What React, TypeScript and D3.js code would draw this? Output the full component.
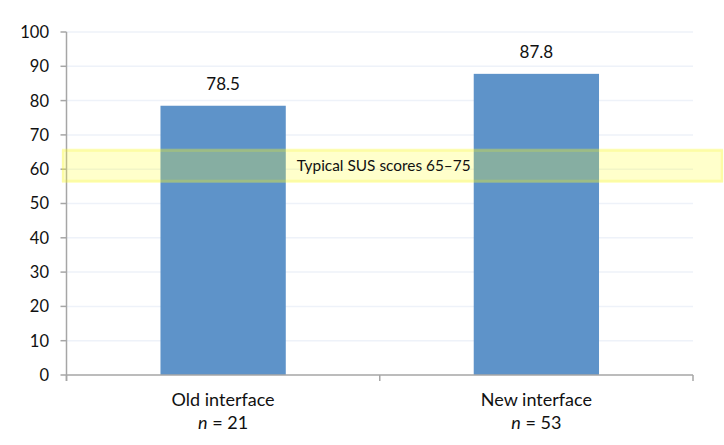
import React from "react";
import * as d3 from "d3";

const categories = ["Old interface", "New interface"];
const nValues = [21, 53];
const scores = [78.5, 87.8];
const yTicks = [0, 10, 20, 30, 40, 50, 60, 70, 80, 90, 100];
const bandRange = [56, 66];
const bandLabel = "Typical SUS scores 65–75";

export default function App() {
  const W = 724, H = 445;
  const left = 66.5, right = 693, top = 32, bottom = 375;
  const x = d3.scaleBand<string>().domain(categories).range([left, right]);
  const y = d3.scaleLinear().domain([0, 100]).range([bottom, top]);
  const font = "Lato, 'Open Sans', sans-serif";
  const step = x.bandwidth();
  const bw = step * 0.4;
  return (
    <svg width={W} height={H} style={{ position: "absolute", left: 0, top: 0, background: "#fff" }} fontFamily={font}>
      {yTicks.map((t) => (
        <g key={t}>
          {t > 0 && <line x1={left} x2={right} y1={y(t)} y2={y(t)} stroke="#eef2f9" strokeWidth={1.5} />}
          <line x1={left - 6} x2={left} y1={y(t)} y2={y(t)} stroke="#a6a6a6" strokeWidth={1.5} />
          <text x={49} y={y(t)} dy="0.36em" textAnchor="end" fontSize={16.5} fill="#111">{t}</text>
        </g>
      ))}
      {categories.map((c, i) => {
        const cx = x(c)! + step / 2;
        return (
          <g key={c}>
            <rect x={cx - bw / 2} y={y(scores[i])} width={bw} height={y(0) - y(scores[i])} fill="#5e93c9" />
            <text x={cx} y={y(scores[i]) - 16} textAnchor="middle" fontSize={17} fill="#111">{scores[i].toFixed(1)}</text>
            <text x={cx} y={406} textAnchor="middle" fontSize={18} fill="#111">{c}</text>
            <text x={cx} y={429} textAnchor="middle" fontSize={18} fill="#111">
              <tspan fontStyle="italic">n</tspan> = {nValues[i]}
            </text>
          </g>
        );
      })}
      <line x1={left} x2={left} y1={top} y2={bottom + 6} stroke="#a6a6a6" strokeWidth={1.5} />
      <line x1={left} x2={right} y1={bottom} y2={bottom} stroke="#a6a6a6" strokeWidth={1.5} />
      {[left, left + step, right].map((tx, i) => (
        <line key={i} x1={tx} x2={tx} y1={bottom} y2={bottom + 6} stroke="#a6a6a6" strokeWidth={1.5} />
      ))}
      <rect x={62} y={y(bandRange[1])} width={661} height={y(bandRange[0]) - y(bandRange[1])} fill="rgb(255,255,48)" fillOpacity={0.25} />
      <rect x={63} y={y(bandRange[1]) + 2} width={659} height={y(bandRange[0]) - y(bandRange[1]) - 4} fill="none" stroke="rgb(240,240,30)" strokeOpacity={0.22} strokeWidth={2.5} />
      <text x={(left + right) / 2 + 4} y={y((bandRange[0] + bandRange[1]) / 2)} dy="0.35em" textAnchor="middle" fontSize={15.4} fill="#111">{bandLabel}</text>
    </svg>
  );
}
